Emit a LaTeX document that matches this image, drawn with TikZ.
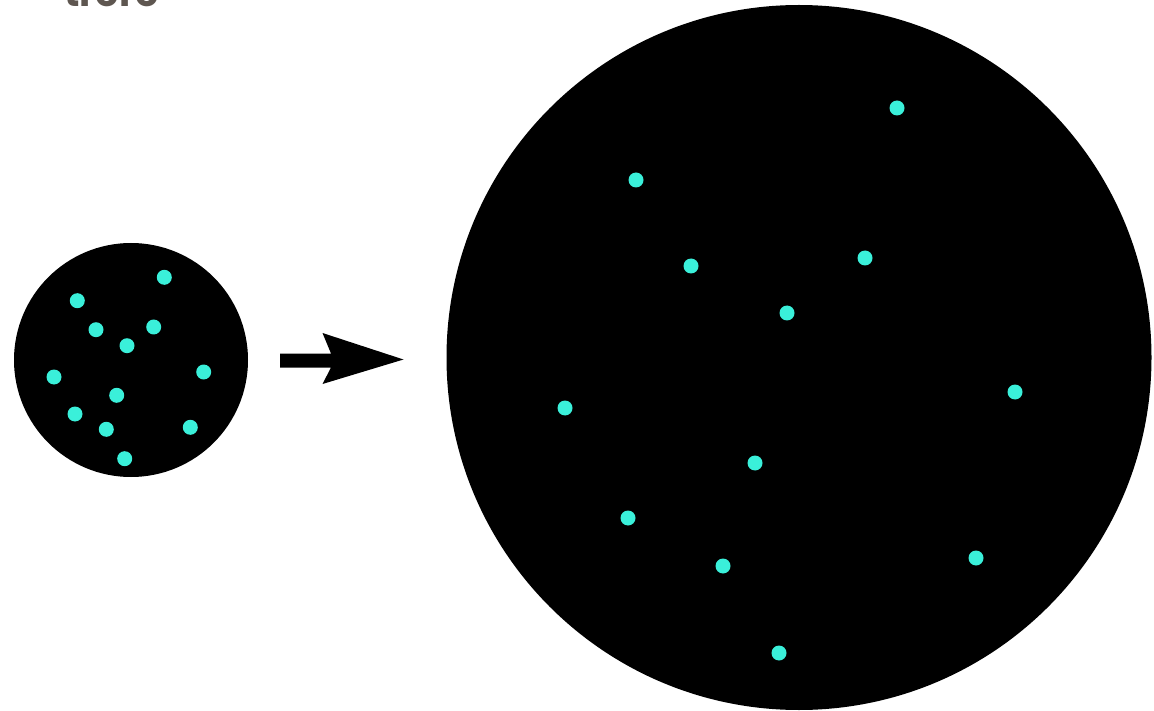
\documentclass[tikz,border=0pt]{standalone}
\usepackage{fontspec}
\setmainfont{Poppins}
\definecolor{dotcyan}{RGB}{58,240,218}
\definecolor{titlegray}{RGB}{94,86,80}
\tikzset{
  ball/.style={fill=black},
  dot/.style={fill=dotcyan},
  arrowshape/.style={fill=black},
  cut/.style={text=titlegray, font=\fontsize{38}{38}\selectfont\bfseries, inner sep=0pt, anchor=base west}
}
\begin{document}
\begin{tikzpicture}[x=1pt,y=-1pt]
\useasboundingbox (0,0) rectangle (1154,711);
\clip (0,0) rectangle (1154,711);
\node[cut] (title) at (64,7) {trere};
% small circle
\fill[ball] (131,360) circle[radius=117pt];
\foreach \x/\y in {164.3/277.3, 77.3/300.7, 96/329.7, 153.7/327, 127/345.7, 54/377, 203.7/372, 116.7/395.3, 75/414, 106.3/429.3, 190.3/427.3, 124.7/458.7}
  \fill[dot] (\x,\y) circle[radius=7.5pt];
% arrow
\fill[arrowshape] (280,353.5) -- (331,353.5) -- (322.5,333) -- (403.5,359.5) -- (322.5,384) -- (331,367.5) -- (280,367.5) -- cycle;
% big circle
\fill[ball] (799,357.5) circle[radius=352.5pt];
\foreach \x/\y in {897/108, 636/180, 691/266, 865/258, 787/313, 565/408, 1015/392, 755/463, 628/518, 723/566, 976/558, 779/653}
  \fill[dot] (\x,\y) circle[radius=7.5pt];
\end{tikzpicture}
\end{document}
